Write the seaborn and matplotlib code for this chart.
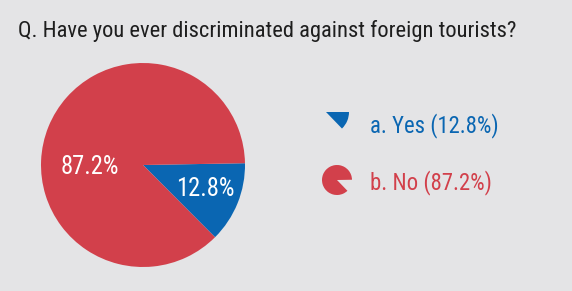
import matplotlib
matplotlib.use("Agg")
import matplotlib.pyplot as plt
import seaborn as sns
from matplotlib.patches import Wedge

categories = ["a. Yes", "b. No"]
values = [12.8, 87.2]
colors = ["#0A66B2", "#D2404B"]
title = "Q. Have you ever discriminated against foreign tourists?"

sns.set_theme(style="white")
plt.rcParams["font.family"] = ["Roboto Condensed", "DejaVu Sans"]
plt.rcParams["font.weight"] = "normal"

W, H = 572, 291
bg = "#E4E4E6"
fig = plt.figure(figsize=(W / 100, H / 100), dpi=100, facecolor=bg)
ax = fig.add_axes([0, 0, 1, 1])
ax.set_facecolor(bg)

# main pie
ax.pie(values, colors=colors, startangle=1, counterclock=False,
       center=(143, H - 165), radius=102, wedgeprops=dict(linewidth=0))
ax.set_xlim(0, W)
ax.set_ylim(0, H)
ax.set_aspect("equal")
ax.axis("off")

# slice labels
ax.text(205, H - 196, f"{values[0]:.1f}%", color="white", fontsize=17.7,
        ha="center", va="baseline")
ax.text(90, H - 174, f"{values[1]:.1f}%", color="white", fontsize=17.7,
        ha="center", va="baseline")

# title
ax.text(267, H - 37, title, fontsize=16.2, color="#1E1E1E",
        ha="center", va="baseline")

# legend icons
ax.add_patch(Wedge((326, H - 112), 23, -46, 0, facecolor=colors[0], lw=0))
ax.add_patch(Wedge((337, H - 180), 15, 1, 314, facecolor=colors[1], lw=0))

# legend text
ax.text(370, H - 132, f"{categories[0]} ({values[0]:.1f}%)", color=colors[0],
        fontsize=16.4, ha="left", va="baseline")
ax.text(370, H - 189, f"{categories[1]} ({values[1]:.1f}%)", color=colors[1],
        fontsize=16.4, ha="left", va="baseline")

fig.savefig("out.png", dpi=100, facecolor=bg)
